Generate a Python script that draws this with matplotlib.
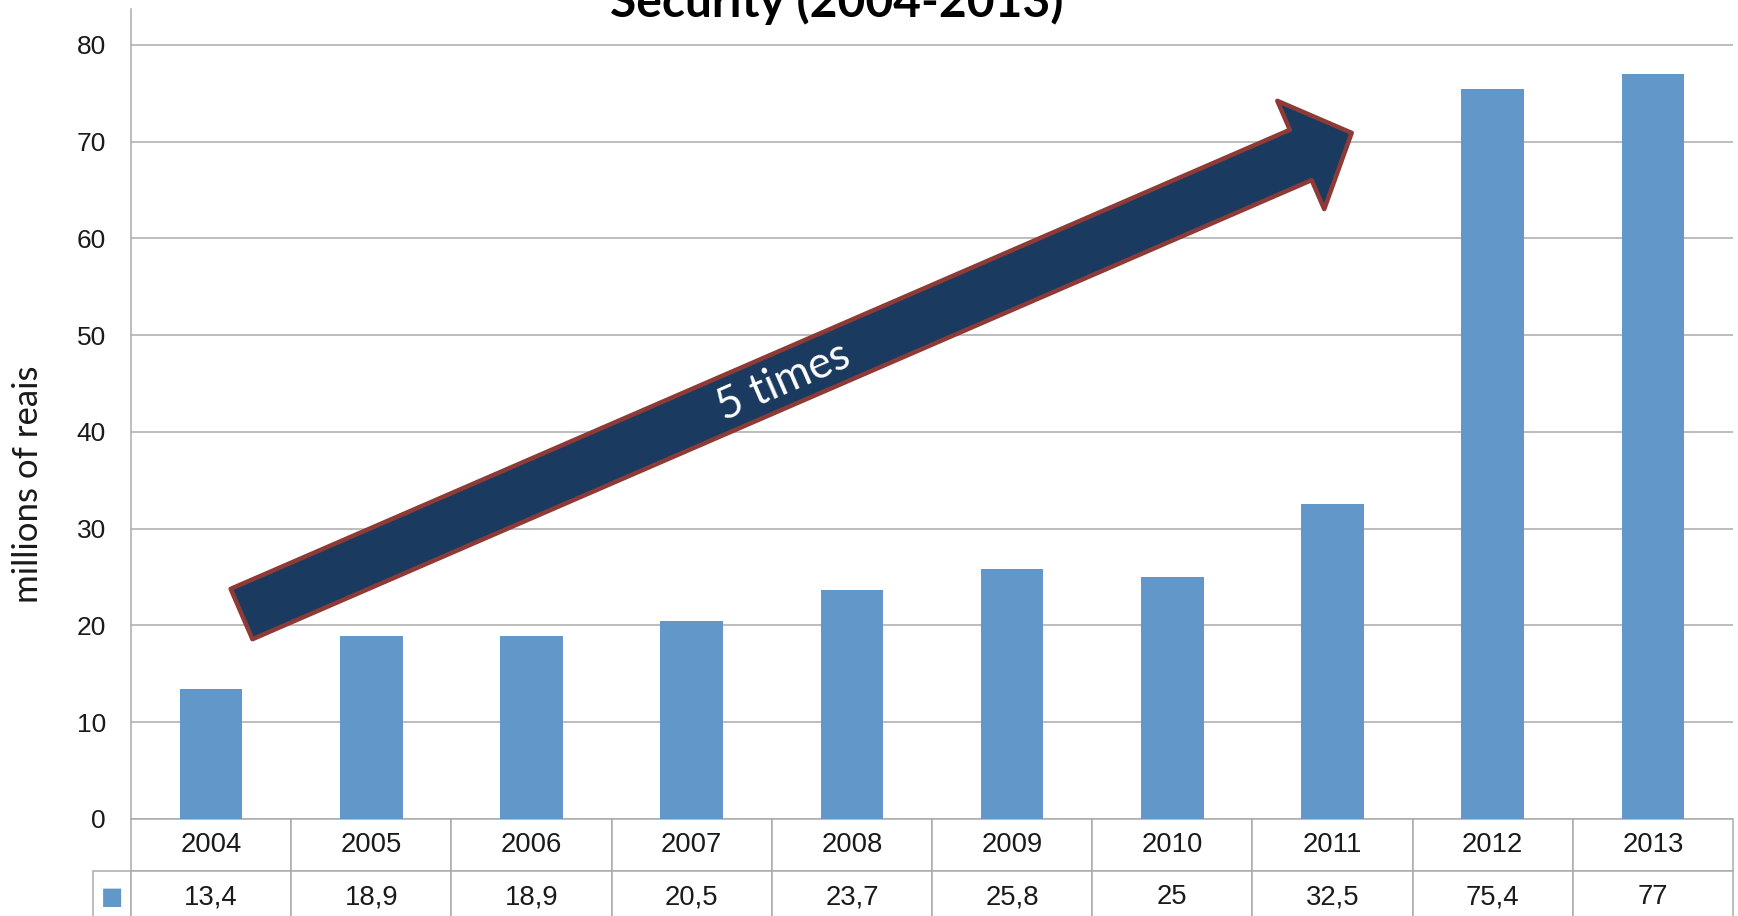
import matplotlib.pyplot as plt
from matplotlib.table import Table

# Gastos federais em segurança, 2004-2013
years = ['2004', '2005', '2006', '2007', '2008', '2009', '2010', '2011', '2012', '2013']
spending = [13.4, 18.9, 18.9, 20.5, 23.7, 25.8, 25, 32.5, 75.4, 77]
yticks = [0, 10, 20, 30, 40, 50, 60, 70, 80]

bar_color = '#6197C9'
grid_color = '#ABABAB'
arrow_fill = '#1B3A5F'
arrow_edge = '#8E3A37'

fig = plt.figure(figsize=(17.38, 9.16), dpi=100)
ax = fig.add_axes([131 / 1738, 1 - 819 / 916, 1602 / 1738, 810 / 916])

x = list(range(len(years)))
ax.bar(x, spending, width=0.39, color=bar_color, zorder=2)

ax.set_xlim(-0.5, len(years) - 0.5)
ax.set_ylim(0, 83.7)
ax.set_yticks(yticks)
ax.set_xticks([])
ax.yaxis.grid(True, color=grid_color, linewidth=1.1, zorder=0)
ax.set_axisbelow(True)
ax.tick_params(axis='y', length=0, pad=18, labelsize=19,
               labelcolor='#1A1A1A')
for lab in ax.get_yticklabels():
    lab.set_fontfamily('Liberation Sans')
for side in ['top', 'right', 'bottom']:
    ax.spines[side].set_visible(False)
ax.spines['left'].set_color(grid_color)
ax.spines['left'].set_linewidth(1.1)

# tabela de dados embaixo do gráfico (a coluna da legenda fica à esquerda do bbox)
row_h = 52 / 810
label_w = 38 / 1602
col_w = 1 / len(years)
labels = [f'{v:g}'.replace('.', ',') for v in spending]
tbl = Table(ax, bbox=[0, -2 * row_h, 1, 2 * row_h])
for j in range(len(years)):
    tbl.add_cell(0, j, width=col_w, height=row_h, text=years[j], loc='center')
    tbl.add_cell(1, j, width=col_w, height=row_h, text=labels[j], loc='center')
tbl.add_cell(1, -1, width=label_w, height=row_h, text='■', loc='center')
tbl.auto_set_font_size(False)
for (r, c), cell in tbl.get_celld().items():
    cell.set_edgecolor(grid_color)
    cell.set_linewidth(1.1)
    cell.get_text().set_fontsize(19.8)
    cell.get_text().set_fontfamily('Liberation Sans')
    cell.get_text().set_color('#1A1A1A')
key = tbl[1, -1].get_text()
key.set_color(bar_color)
key.set_fontfamily('DejaVu Sans')
key.set_fontsize(17)
ax.add_table(tbl)

# seta de crescimento
ax.annotate('', xy=(7.12, 70.9), xytext=(0.19, 21.18),
            arrowprops=dict(arrowstyle='simple,head_length=40,head_width=85,tail_width=39.5',
                            mutation_scale=1, fc=arrow_fill, ec=arrow_edge,
                            lw=3.2, shrinkA=0, shrinkB=0), zorder=5)
ax.text(3.576, 45.2, '5 times', color='white', fontsize=31.5, family='Lato',
        rotation=23.5, rotation_mode='anchor', ha='center', va='center', zorder=6)

ax.text(-0.0643, 0.4136, 'millions of reais', transform=ax.transAxes,
        rotation=90, ha='center', va='center', fontsize=25, family='Lato',
        color='#1A1A1A')

fig.text(837 / 1738, 1 - 17 / 916, 'Security (2004-2013)', ha='center',
         va='baseline', fontsize=34.5, fontweight='bold', family='Lato')

fig.savefig('out.png', dpi=100)
